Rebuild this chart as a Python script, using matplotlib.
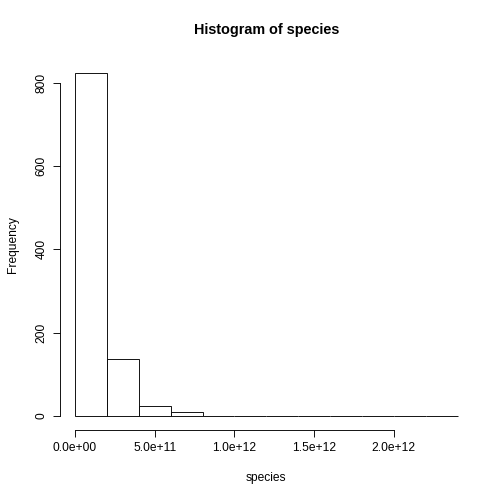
import matplotlib
matplotlib.use("Agg")
import matplotlib.pyplot as plt

plt.rcParams['font.family'] = ['Liberation Sans', 'DejaVu Sans']

# histogram of species: bin edges every 2e11, counts
bin_width = 2e11
bin_lefts = [i * bin_width for i in range(12)]
counts = [823, 136, 25, 9, 1, 1, 1, 1, 0, 0, 0, 1]
x_ticks = [0, 5e11, 1e12, 1.5e12, 2e12]
x_tick_labels = ['0.0e+00', '5.0e+11', '1.0e+12', '1.5e+12', '2.0e+12']
y_ticks = [0, 200, 400, 600, 800]

fig = plt.figure(figsize=(7, 7), dpi=72)
ax = fig.add_axes([0.1185, 0.1474, 0.82, 0.7351])

ax.bar(bin_lefts, counts, width=bin_width, align='edge',
       facecolor='white', edgecolor='black', linewidth=0.9)

xmax = bin_lefts[-1] + bin_width
ax.set_xlim(-0.04 * xmax, 1.04 * xmax)
ax.set_ylim(-0.04 * max(counts), 1.04 * max(counts))

ax.set_xticks(x_ticks)
ax.set_xticklabels(x_tick_labels)
ax.set_yticks(y_ticks)
ax.set_yticklabels([str(v) for v in y_ticks], rotation=90, va='center')

for s in ['top', 'right']:
    ax.spines[s].set_visible(False)
ax.spines['left'].set_bounds(0, 800)
ax.spines['bottom'].set_bounds(0, 2e12)
for s in ['left', 'bottom']:
    ax.spines[s].set_linewidth(0.9)
ax.tick_params(length=7, width=0.9, labelsize=12, pad=5)

ax.set_title('Histogram of species', fontsize=14.4, fontweight='bold', pad=25)
ax.set_xlabel('species', fontsize=12, labelpad=18)
ax.set_ylabel('Frequency', fontsize=12, labelpad=17)

fig.savefig('out.png', dpi=72)
